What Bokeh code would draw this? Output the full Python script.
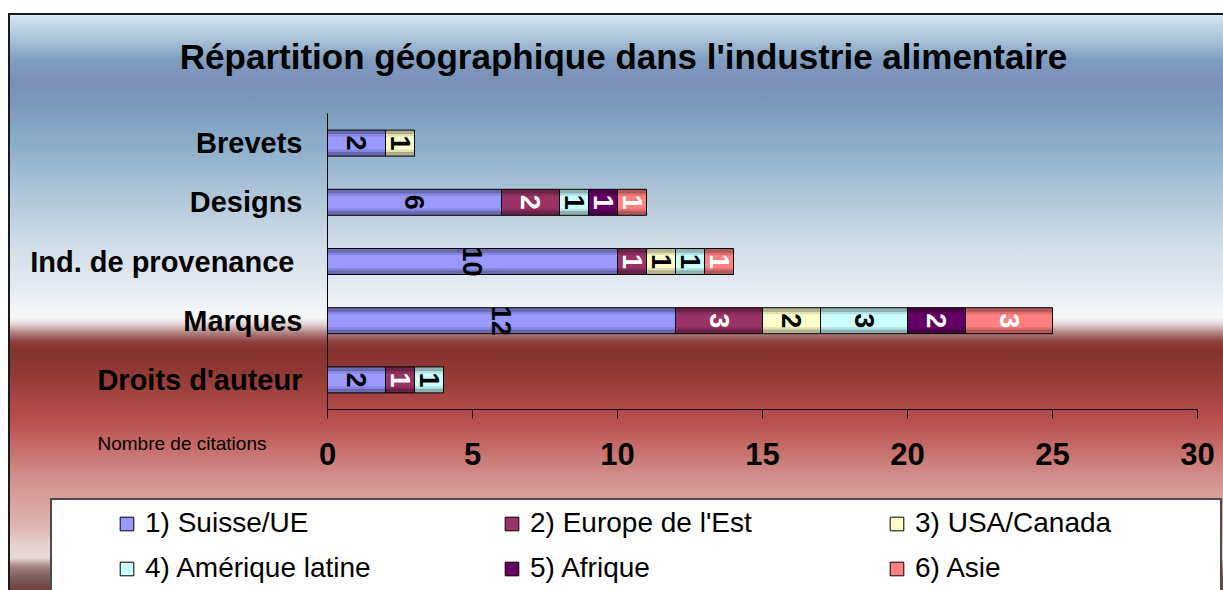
import math
from bokeh.plotting import figure
from bokeh.models import ColumnDataSource, Range1d, Label, Legend, LegendItem
from bokeh.core.properties import value
from bokeh.embed import file_html
from bokeh.resources import INLINE

# ---------------- data ----------------
categories = ["Brevets", "Designs", "Ind. de provenance ", "Marques", "Droits d'auteur"]
series_names = ["1) Suisse/UE", "2) Europe de l'Est", "3) USA/Canada",
                "4) Amérique latine", "5) Afrique", "6) Asie"]
suisse_ue = [2, 6, 10, 12, 2]
europe_est = [0, 2, 1, 3, 1]
usa_canada = [1, 0, 1, 2, 0]
amerique_latine = [0, 1, 1, 3, 1]
afrique = [0, 1, 0, 2, 0]
asie = [0, 1, 1, 3, 0]
x_ticks = [0, 5, 10, 15, 20, 25, 30]
title_text = "Répartition géographique dans l'industrie alimentaire"
axis_title = "Nombre de citations"

series = [suisse_ue, europe_est, usa_canada, amerique_latine, afrique, asie]
keys = ["s1", "s2", "s3", "s4", "s5", "s6"]
colors = ["#9999ff", "#993366", "#ffffcc", "#ccffff", "#660066", "#ff8080"]
label_colors = ["black", "white", "black", "black", "white", "white"]
FONT = "Liberation Sans"

# ---------------- geometry (page pixels -> data space) ----------------
W, H = 1223, 590
X0_PX, PX_PER_UNIT = 327, 29.0          # x = 0 at 327px, 29px per citation
Y0_PX, PX_PER_CAT = 379.4, 59.2         # lowest category centre, band height


def dx(px):
    return (px - X0_PX) / PX_PER_UNIT


def dy(py):
    return (Y0_PX - py) / PX_PER_CAT


n = len(categories)
ypos = [n - 1 - i for i in range(n)]      # first category on top

data = {"cat": categories, "pos": ypos}
for k, s in zip(keys, series):
    data[k] = s
src = ColumnDataSource(data)

p = figure(width=W, height=H, x_range=Range1d(dx(0), dx(W)), y_range=Range1d(dy(H), dy(0)),
           x_axis_location=None, y_axis_location=None, min_border=0,
           output_backend="svg", toolbar_location=None)
p.background_fill_color = None
p.border_fill_color = None
p.outline_line_color = None
p.grid.visible = False
p.title.visible = False

stops = ("#d5e4f0 1px, #a9c2d8 25px, #809dc0 45px, #7a8fb8 67px, #7d9cbf 95px, "
         "#8fb0cc 135px, #b3c8da 185px, #cddbe7 225px, #e1e8f0 265px, #f2f5f8 295px, "
         "#f7f7f8 303px, #e0cccc 310px, #b08080 318px, #8e403c 327px, #86322f 335px, "
         "#923a36 360px, #a84644 385px, #b84f4c 405px, #c36462 425px, #cb7b78 445px, "
         "#d39390 465px, #d8a29e 485px, #ddb3b0 510px, #e6d2cf 530px, #e6dad6 543px, "
         "#a88884 551px, #806060 561px, #6e403c 575px")
p.styles = {
    "background": (
        "linear-gradient(#ffffff,#ffffff) 52px 500px / 1168px 120px no-repeat, "
        "linear-gradient(#4a4a4a,#4a4a4a) 50px 498px / 1172px 120px no-repeat, "
        f"linear-gradient(to bottom, {stops}) 10px 15px / 1213px 575px no-repeat, "
        "linear-gradient(#1a1a1a,#1a1a1a) 8px 13px / 1215px 577px no-repeat, "
        "#ffffff"
    )
}

# ---------------- bars ----------------
bar_h = 26 / PX_PER_CAT
renderers = p.hbar_stack(keys, y="pos", height=bar_h, color=colors, source=src,
                         line_color="black", line_width=1)

# segment extents (for shading and value labels)
sp, sl, sr, lx, lt, lc = [], [], [], [], [], []
for i in range(n):
    left = 0
    for vals, col in zip(series, label_colors):
        v = vals[i]
        if v > 0:
            sp.append(ypos[i])
            sl.append(left)
            sr.append(left + v)
            lx.append(left + v / 2)
            lt.append(str(v))
            lc.append(col)
        left += v

for off_px, h_px, a in [(11, 4, 0.30), (-11, 4, 0.30), (8, 3, 0.12), (-8, 3, 0.12)]:
    shade = ColumnDataSource(dict(y=[y + off_px / PX_PER_CAT for y in sp], left=sl, right=sr))
    p.hbar(y="y", left="left", right="right", height=h_px / PX_PER_CAT, source=shade,
           fill_color="black", fill_alpha=a, line_color=None)

lsrc = ColumnDataSource(dict(x=lx, y=sp, t=lt, c=lc))
p.text(x="x", y="y", text="t", text_color="c", source=lsrc, angle=-math.pi / 2,
       text_align="center", text_baseline="middle", text_font=value(FONT),
       text_font_style="bold", text_font_size="27px")

# ---------------- axes ----------------
axis_y = -0.5
p.segment(x0=[0], y0=[axis_y], x1=[0], y1=[n - 0.5], line_color="black", line_width=1)
p.segment(x0=[x_ticks[0]], y0=[axis_y], x1=[x_ticks[-1]], y1=[axis_y],
          line_color="black", line_width=1)
p.segment(x0=x_ticks, y0=[axis_y] * len(x_ticks), x1=x_ticks,
          y1=[axis_y - 9 / PX_PER_CAT] * len(x_ticks), line_color="black", line_width=1)
p.text(x=x_ticks, y=[axis_y] * len(x_ticks), text=[str(t) for t in x_ticks], y_offset=44,
       text_align="center", text_baseline="middle", text_font=value(FONT),
       text_font_style="bold", text_font_size="31px", text_color="black")
p.text(x=[0] * n, y=ypos, text=categories, x_offset=-25,
       text_align="right", text_baseline="middle", text_font=value(FONT),
       text_font_style="bold", text_font_size="29px", text_color="black")

# ---------------- title and caption ----------------
p.add_layout(Label(x=dx(623), y=dy(56), text=title_text, text_align="center",
                   text_baseline="alphabetic", text_font=FONT, text_font_style="bold",
                   text_font_size="35px", text_color="black"))
p.add_layout(Label(x=dx(97), y=dy(442.5), text=axis_title, text_align="left",
                   text_baseline="alphabetic", text_font=FONT, text_font_size="19px",
                   text_color="black"))

# ---------------- legend ----------------
legend = Legend(items=[LegendItem(label=nm, renderers=[r]) for nm, r in zip(series_names, renderers)],
                location=(118, 6), orientation="horizontal", ncols=3,
                padding=0, margin=0, spacing=13,
                glyph_width=17, glyph_height=17, label_standoff=10,
                label_width=345, label_height=32,
                label_text_font=FONT, label_text_font_size="28px",
                label_text_color="black",
                background_fill_alpha=0, border_line_color=None)
p.add_layout(legend)

open("out.html", "w").write(file_html(p, INLINE))
